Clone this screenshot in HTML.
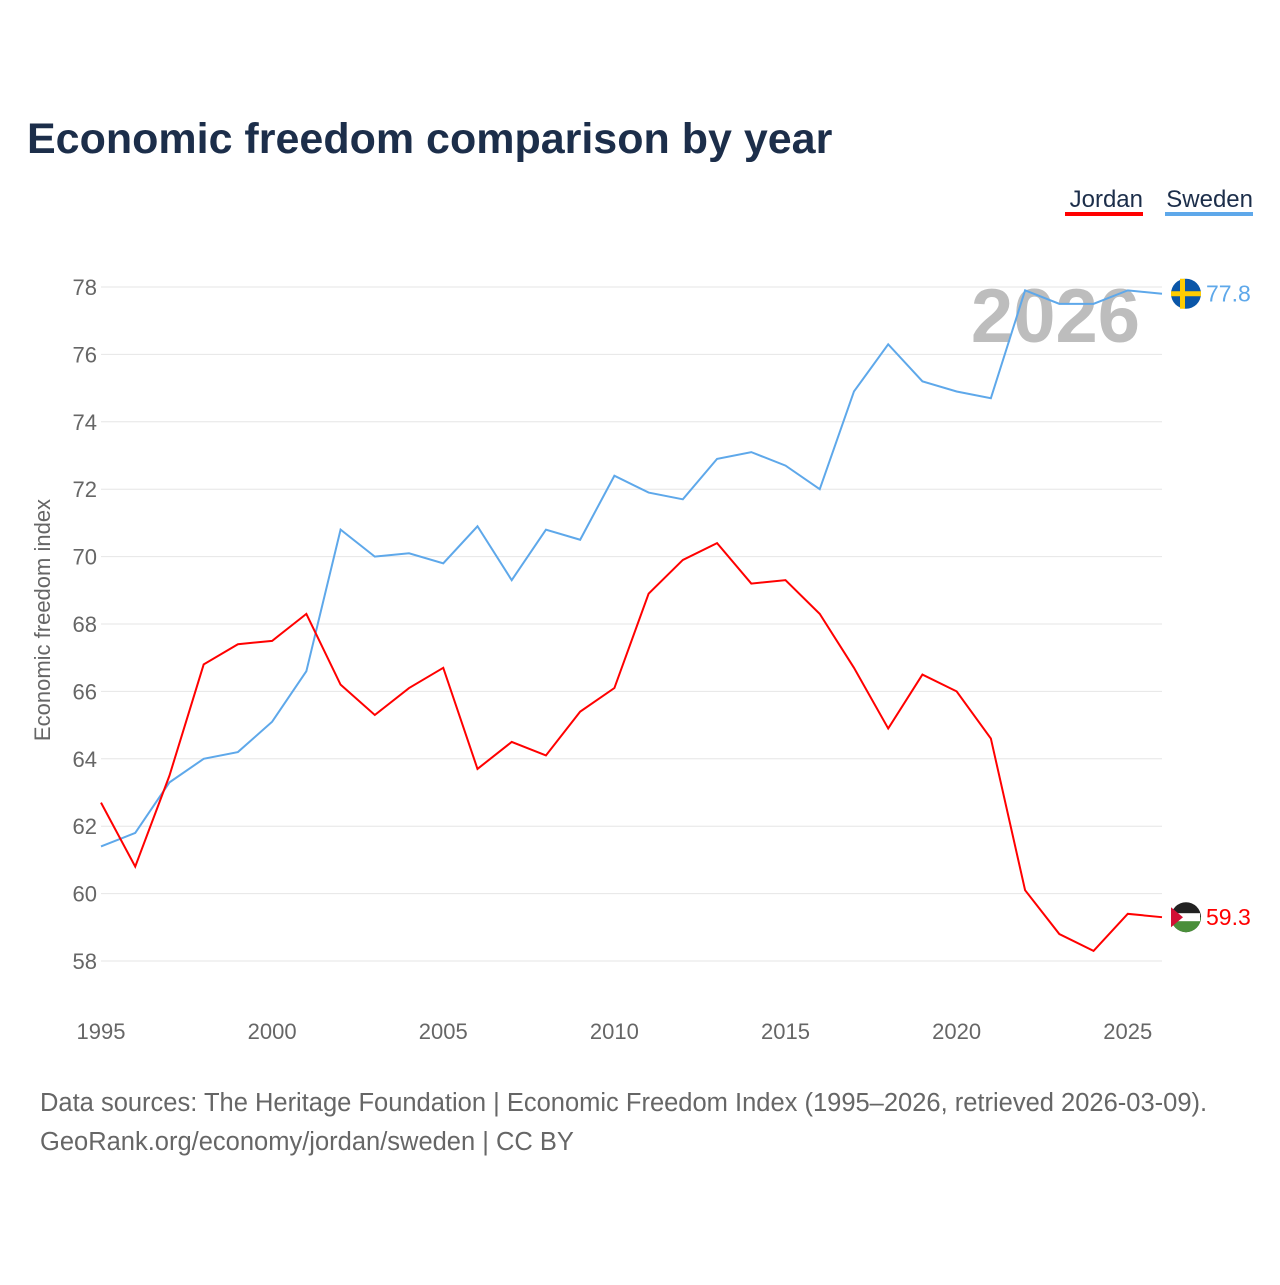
<!DOCTYPE html>
<html><head><meta charset="utf-8"><style>
body{margin:0;background:#fff;width:1280px;height:1280px;overflow:hidden;font-family:"Liberation Sans",sans-serif}
</style></head><body>
<svg width="1280" height="1280" id="svg" xmlns="http://www.w3.org/2000/svg">
<text x="27" y="153" font-size="43" font-weight="bold" fill="#1c2e4a">Economic freedom comparison by year</text>
<g><text x="1143" y="207" text-anchor="end" font-size="24" fill="#1c2e4a">Jordan</text><rect x="1065" y="212" width="78" height="4" fill="#ff0000"/></g>
<g><text x="1253" y="207" text-anchor="end" font-size="24" fill="#1c2e4a">Sweden</text><rect x="1165" y="212" width="88" height="4" fill="#5ea8ea"/></g>
<text x="1140" y="342" text-anchor="end" font-size="76" font-weight="bold" fill="#bdbdbd">2026</text>
<g id="grid"></g><g id="lines"></g>
<text transform="translate(50,620) rotate(-90)" text-anchor="middle" font-size="22" fill="#666">Economic freedom index</text>
<text x="40" y="1111" font-size="25.5" fill="#666">Data sources: The Heritage Foundation | Economic Freedom Index (1995–2026, retrieved 2026-03-09).</text>
<text x="40" y="1150" font-size="25.5" fill="#666">GeoRank.org/economy/jordan/sweden | CC BY</text>
</svg>
<script>
const years=[];for(let y=1995;y<=2026;y++)years.push(y);
const yTicks=[58,60,62,64,66,68,70,72,74,76,78];
const xTicks=[1995,2000,2005,2010,2015,2020,2025];
const jordan=[62.7,60.8,63.5,66.8,67.4,67.5,68.3,66.2,65.3,66.1,66.7,63.7,64.5,64.1,65.4,66.1,68.9,69.9,70.4,69.2,69.3,68.3,66.7,64.9,66.5,66.0,64.6,60.1,58.8,58.3,59.4,59.3];
const sweden=[61.4,61.8,63.3,64.0,64.2,65.1,66.6,70.8,70.0,70.1,69.8,70.9,69.3,70.8,70.5,72.4,71.9,71.7,72.9,73.1,72.7,72.0,74.9,76.3,75.2,74.9,74.7,77.9,77.5,77.5,77.9,77.8];
const X=y=>101+(y-1995)*(1162-101)/31;
const Y=v=>287+(78-v)*(961-287)/20;
const NS="http://www.w3.org/2000/svg";
const g=document.getElementById('grid'),L=document.getElementById('lines');
function mk(t,a,p){const e=document.createElementNS(NS,t);for(const k in a)e.setAttribute(k,a[k]);p.appendChild(e);return e;}
yTicks.forEach(v=>{
 const l=mk('line',{x1:101,x2:1162,y1:Y(v),y2:Y(v),stroke:'#e6e6e6','stroke-width':1},g);
 
 
 const t=mk('text',{x:97,y:Y(v)+8,'text-anchor':'end','font-size':22,fill:'#666'},g);t.textContent=v;
 
 
});
xTicks.forEach(v=>{
 const t=mk('text',{x:X(v),y:1039,'text-anchor':'middle','font-size':22,fill:'#666'},g);t.textContent=v;
 
 
});
function series(d,c,name){
 const p=mk('polyline',{points:d.map((v,i)=>X(years[i])+','+Y(v)).join(' '),fill:'none',stroke:c,'stroke-width':2},L);
 
 
 const last=d[d.length-1],cx=X(years[years.length-1])+24,cy=Y(last);
 const f=mk('circle',{cx:cx,cy:cy,r:15,fill:name=='sweden'?'#0a56a8':'#222'},L);
 
 
 if(name=='sweden'){mk('rect',{x:cx-15,y:cy-2.5,width:30,height:5,fill:'#fecc02'},L);mk('rect',{x:cx-6,y:cy-15,width:5,height:30,fill:'#fecc02'},L);}
 else{mk('path',{d:`M${cx-15},${cy} A15,15 0 0 0 ${cx+15},${cy} Z`,fill:'#4a8f3a'},L);mk('rect',{x:cx-14,y:cy-4,width:28,height:8,fill:'#fff'},L);mk('path',{d:`M${cx-15},${cy-10} L${cx-3},${cy} L${cx-15},${cy+10}Z`,fill:'#d21034'},L);}
 const t=mk('text',{x:cx+20,y:cy+8,'font-size':23,fill:c},L);t.textContent=last.toFixed(1);
 
 
}
series(sweden,'#5ea8ea','sweden');
series(jordan,'#ff0000','jordan');
</script>
</body></html>
